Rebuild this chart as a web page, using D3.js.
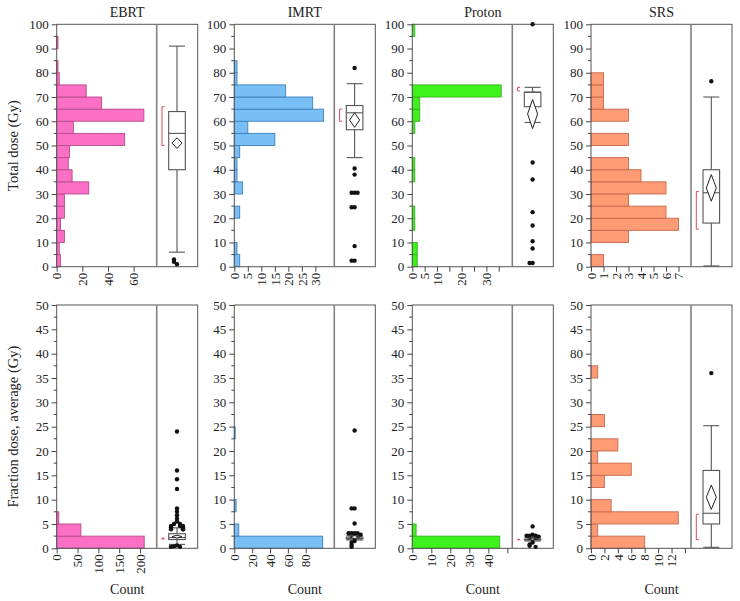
<!DOCTYPE html>
<html><head><meta charset="utf-8">
<script src="https://cdn.jsdelivr.net/npm/d3@7"></script>
<style>body{margin:0;background:#fff} text{font-family:"Liberation Serif","DejaVu Serif",serif;fill:#222}</style>
</head><body><svg id="c" width="740" height="601"></svg>
<script>
const groups = ["EBRT","IMRT","Proton","SRS"];
const colors = ["#fb6fc4","#78bff5","#3ef21c","#fd9b74"];
const strokes = ["#b84a8a","#3f80bd","#35b41f","#c8684c"];

// Total dose: counts per 5 Gy bin (0–100)
const ebrtTotalCounts   = [3,2,6,3,6,6,25,12,9,10,53,13,68,35,23,2,1,0,1,0];
const imrtTotalCounts   = [2,1,0,0,2,0,3,1,1,2,15,5,33,29,19,1,1,0,0,0];
const protonTotalCounts = [2,2,0,1,1,0,0,1,1,0,0,1,3,3,36,0,0,0,0,1];
const srsTotalCounts    = [1,0,3,7,6,3,6,4,3,0,3,0,3,1,1,1,0,0,0,0];
// Fraction dose: counts per 2.5 Gy bin (0–50)
const ebrtFracCounts   = [210,58,5,0,0,0,0,0,0,0,0,0,0,0,0,0,0,0,0,0];
const imrtFracCounts   = [99,5,0,2,0,0,0,0,0,1,0,0,0,0,0,0,0,0,0,0];
const protonFracCounts = [46,2,0,0,0,0,0,0,0,0,0,0,0,0,0,0,0,0,0,0];
const srsFracCounts    = [8,1,13,3,0,2,6,1,4,0,2,0,0,0,1,0,0,0,0,0];

// Box summaries: [whiskerLow, Q1, median, Q3, whiskerHigh]
const ebrtTotalBox   = [6,40,55,64,91];
const imrtTotalBox   = [45,56.5,63.5,66.5,75.5];
const protonTotalBox = [59.5,66,72,72,74];
const srsTotalBox    = [0.3,18,30.5,40,70];
const ebrtFracBox    = [0.8,1.8,2.2,3.0,4.2];
const imrtFracBox    = [1.7,1.9,2.0,2.3,2.6];
const protonFracBox  = [1.5,1.7,1.8,1.9,2.2];
const srsFracBox     = [0.2,5,7.2,16,25.2];
// Means diamonds: [mean, lowerCI, upperCI]
const ebrtTotalMean   = [51,48.8,53.2];
const imrtTotalMean   = [60.5,57.5,63.5];
const protonTotalMean = [63,57,69];
const srsTotalMean    = [32.5,27,38];
const ebrtFracMean    = [2.4,2.1,2.7];
const imrtFracMean    = [2.3,2.0,2.6];
const protonFracMean  = [1.9,1.7,2.1];
const srsFracMean     = [10.5,8,13];
// Shortest half brackets: [low, high]
const ebrtTotalBracket   = [50,66];
const imrtTotalBracket   = [60,65];
const protonTotalBracket = [72.5,74];
const srsTotalBracket    = [15.5,31];
const ebrtFracBracket    = [1.9,2.1];
const imrtFracBracket    = null;
const protonFracBracket  = [1.75,1.85];
const srsFracBracket     = [1.8,7];
// Outliers
const ebrtTotalOut   = [1,2,3];
const imrtTotalOut   = [82,40.5,38,30.5,30.5,30.5,24.5,24.5,8.5,2.5,2.5];
const protonTotalOut = [100,43,36,22.5,17,10.5,7.5,1.5,1.5];
const srsTotalOut    = [76.5];
const ebrtFracOut    = [24,16,14.2,12.2,8.2,7.5,6.8,6.1,5.5,5,5,4.6,4.6,4.6,4.2,4.2,4.2,4.2,3.9,3.9,3.9,0.6,0.4,0.3,0.3];
const imrtFracOut    = [24.2,8.2,8.2,5.1,3.1,3.1,3.1,3.1,2.8,1.5,1.2,0.7,0.3];
const protonFracOut  = [4.5,2.8,2.6,2.6,2.6,2.4,1.2,0.8,0.5,0.3];
const srsFracOut     = [36];

// Axis ticks
const totalTicks = [0,10,20,30,40,50,60,70,80,90,100];
const fracTicks  = [0,5,10,15,20,25,30,35,40,45,50];
const fracTickLabelsSRS = ["0","5","10","15","20","25","30","35","80","45","50"];
const totalCountMax = [78,37,40.5,8];
const fracCountMax  = [240,112,52.6,14.9];
const totalCountTicks = [[0,20,40,60],[0,5,10,15,20,25,30],[0,5,10,15,20,25,30,35],[0,1,2,3,4,5,6,7]];
const totalCountLabels = [["0","20","40","60"],["0","5","10","15","20","25","30"],["0","5","10","","20","","30",""],["0","1","2","3","4","5","6","7"]];
const fracCountTicks = [[0,50,100,150,200],[0,20,40,60,80],[0,10,20,30,40,50],[0,2,4,6,8,10,12,14]];
const fracCountLabels = [["0","50","100","150","200"],["0","20","40","60","80"],["0","10","20","30","40",""],["0","2","4","6","8","10","12",""]];

const svg = d3.select("#c");
const panelL = [56.7,234.3,412.3,591];
const histW = 100, boxW = 41;

const rows = [
  {y0:24.3, y1:266.7, max:100, bin:5, minor:5, ticks:totalTicks,
   counts:[ebrtTotalCounts,imrtTotalCounts,protonTotalCounts,srsTotalCounts],
   box:[ebrtTotalBox,imrtTotalBox,protonTotalBox,srsTotalBox],
   mean:[ebrtTotalMean,imrtTotalMean,protonTotalMean,srsTotalMean],
   br:[ebrtTotalBracket,imrtTotalBracket,protonTotalBracket,srsTotalBracket],
   out:[ebrtTotalOut,imrtTotalOut,protonTotalOut,srsTotalOut],
   cmax:totalCountMax, cticks:totalCountTicks, clabels:totalCountLabels, ylabel:"Total dose (Gy)"},
  {y0:305, y1:548.3, max:50, bin:2.5, minor:2.5, ticks:fracTicks,
   counts:[ebrtFracCounts,imrtFracCounts,protonFracCounts,srsFracCounts],
   box:[ebrtFracBox,imrtFracBox,protonFracBox,srsFracBox],
   mean:[ebrtFracMean,imrtFracMean,protonFracMean,srsFracMean],
   br:[ebrtFracBracket,imrtFracBracket,protonFracBracket,srsFracBracket],
   out:[ebrtFracOut,imrtFracOut,protonFracOut,srsFracOut],
   cmax:fracCountMax, cticks:fracCountTicks, clabels:fracCountLabels, ylabel:"Fraction dose, average (Gy)"}
];

rows.forEach((row, ri) => {
  const y = d3.scaleLinear().domain([0,row.max]).range([row.y1,row.y0]);
  svg.append("text").attr("transform",`translate(18,${(row.y0+row.y1)/2}) rotate(-90)`)
    .attr("text-anchor","middle").attr("font-size",14.5).text(row.ylabel);
  groups.forEach((g, gi) => {
    const L = panelL[gi];
    const gp = svg.append("g");
    const x = d3.scaleLinear().domain([0,row.cmax[gi]]).range([L, L+histW]);
    if (ri===0) gp.append("text").attr("x",L+(histW+boxW)/2).attr("y",17).attr("text-anchor","middle")
      .attr("font-size",14).text(g);
    const bins = row.counts[gi].map((c,i)=>({c, lo:i*row.bin, hi:(i+1)*row.bin})).filter(d=>d.c>0);
    gp.selectAll("rect.bar").data(bins).enter().append("rect")
      .attr("x",L).attr("y",d=>y(d.hi)).attr("width",d=>x(d.c)-L).attr("height",d=>y(d.lo)-y(d.hi))
      .attr("fill",colors[gi]).attr("stroke",strokes[gi]).attr("stroke-width",0.9);
    gp.append("rect").attr("x",L).attr("y",row.y0).attr("width",histW+boxW).attr("height",row.y1-row.y0)
      .attr("fill","none").attr("stroke","#555").attr("stroke-width",1);
    gp.append("line").attr("x1",L+histW).attr("x2",L+histW).attr("y1",row.y0).attr("y2",row.y1)
      .attr("stroke","#808080").attr("stroke-width",1.6);
    const labels = (ri===1 && gi===3) ? fracTickLabelsSRS : row.ticks.map(String);
    const yAxis = d3.axisLeft(y).tickValues(row.ticks).tickSize(5).tickFormat((d,i)=>labels[i]);
    const ya = gp.append("g").attr("transform",`translate(${L},0)`).call(yAxis);
    ya.select(".domain").remove();
    ya.selectAll("line").attr("stroke","#444");
    ya.selectAll("text").attr("font-size",13).attr("font-family","Liberation Serif").attr("fill","#222");
    const minors = d3.range(row.minor, row.max, row.minor*2);
    gp.selectAll("line.minor").data(minors).enter().append("line")
      .attr("x1",L-3).attr("x2",L).attr("y1",d=>y(d)).attr("y2",d=>y(d)).attr("stroke","#444");
    const xl = row.clabels[gi];
    const xAxis = d3.axisBottom(x).tickValues(row.cticks[gi]).tickSize(5).tickFormat((d,i)=>xl[i]);
    const xa = gp.append("g").attr("transform",`translate(0,${row.y1})`).call(xAxis);
    xa.select(".domain").remove();
    xa.selectAll("line").attr("stroke","#444");
    xa.selectAll("text").attr("font-size",13).attr("font-family","Liberation Serif").attr("fill","#222")
      .attr("transform","rotate(-90)").attr("text-anchor","end").attr("dy","0.32em").attr("x",-6).attr("y",0);
    if (ri===1) gp.append("text").attr("x",L+(histW+boxW)/2).attr("y",594).attr("text-anchor","middle")
      .attr("font-size",14).text("Count");
    const cx = L + histW + 20.3;
    const b = row.box[gi], m = row.mean[gi];
    const st = "#555";
    gp.append("line").attr("x1",cx).attr("x2",cx).attr("y1",y(b[0])).attr("y2",y(b[1])).attr("stroke",st).attr("stroke-width",1.1);
    gp.append("line").attr("x1",cx).attr("x2",cx).attr("y1",y(b[3])).attr("y2",y(b[4])).attr("stroke",st).attr("stroke-width",1.1);
    [b[0],b[4]].forEach(v=>gp.append("line").attr("x1",cx-8).attr("x2",cx+8).attr("y1",y(v)).attr("y2",y(v)).attr("stroke",st).attr("stroke-width",1.1));
    gp.append("rect").attr("x",cx-8.3).attr("width",16.6).attr("y",y(b[3])).attr("height",Math.max(0.5,y(b[1])-y(b[3])))
      .attr("fill","#fff").attr("stroke",st).attr("stroke-width",1.1);
    gp.append("line").attr("x1",cx-8.3).attr("x2",cx+8.3).attr("y1",y(b[2])).attr("y2",y(b[2])).attr("stroke",st).attr("stroke-width",1.1);
    const dw = 5;
    gp.append("path").attr("d",`M${cx},${y(m[2])}L${cx+dw},${y(m[0])}L${cx},${y(m[1])}L${cx-dw},${y(m[0])}Z`)
      .attr("fill","#fff").attr("stroke","#222").attr("stroke-width",1);
    const br = row.br[gi];
    if (br) {
      const bx = L + histW + 5.3;
      gp.append("path").attr("d",`M${bx+2.5},${y(br[1])}H${bx}V${y(br[0])}H${bx+2.5}`)
        .attr("fill","none").attr("stroke","#e0455a").attr("stroke-width",1);
    }
    const outs = row.out[gi];
    const placed = [];
    outs.forEach(v => {
      const py = y(v);
      const near = placed.filter(p => Math.abs(p.py - py) < 2.5).length;
      const k = Math.min(2, Math.ceil(near/2)) * (near % 2 === 1 ? -1 : 1);
      const px = cx + k*3;
      placed.push({py});
      gp.append("circle").attr("cx",px).attr("cy",py).attr("r",2.2).attr("fill","#111");
    });
  });
});
</script></body></html>
